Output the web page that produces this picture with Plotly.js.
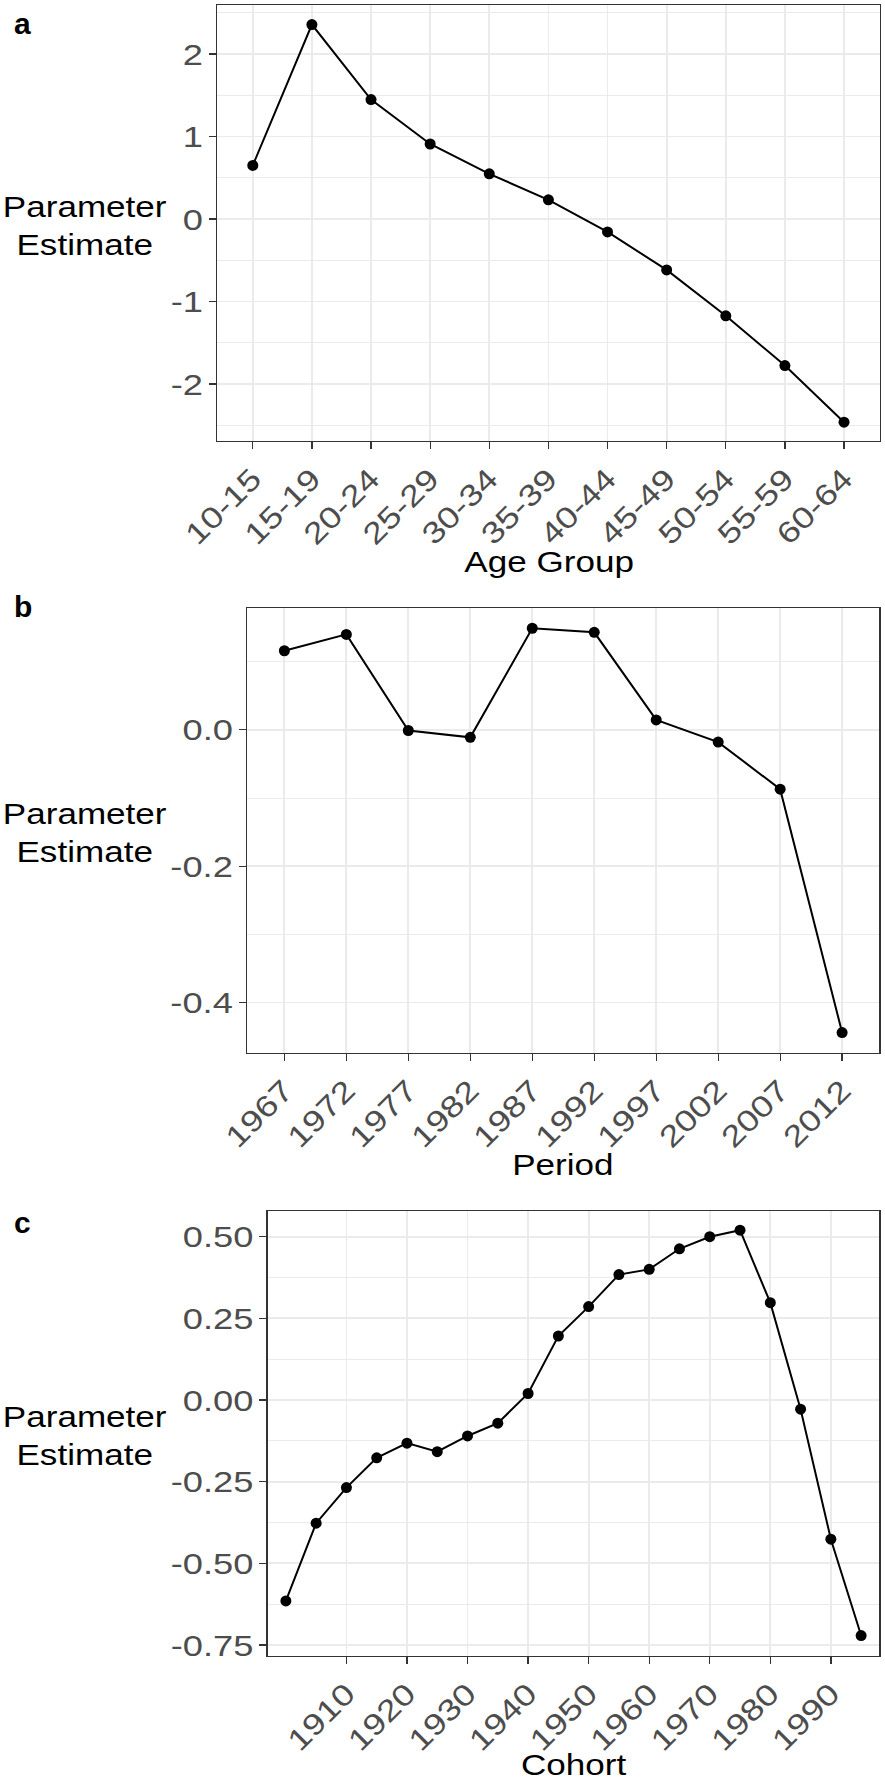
<!DOCTYPE html>
<html>
<head>
<meta charset="utf-8">
<script src="https://cdn.plot.ly/plotly-3.0.1.min.js"></script>
<style>
  html, body { margin: 0; padding: 0; background: #ffffff; }
  #chart { width: 885px; height: 1785px; }
</style>
</head>
<body>
<div id="chart"></div>
<script>
// ---------- data ----------
const ageGroups = ['10-15','15-19','20-24','25-29','30-34','35-39','40-44','45-49','50-54','55-59','60-64'];
const ageEstimates = [0.651, 2.358, 1.448, 0.910, 0.549, 0.233, -0.156, -0.616, -1.172, -1.776, -2.462];

const periods = ['1967','1972','1977','1982','1987','1992','1997','2002','2007','2012'];
const periodEstimates = [0.116, 0.140, -0.001, -0.011, 0.149, 0.143, 0.0145, -0.018, -0.087, -0.444];

const cohorts = [1900,1905,1910,1915,1920,1925,1930,1935,1940,1945,1950,1955,1960,1965,1970,1975,1980,1985,1990,1995];
const cohortEstimates = [-0.615, -0.377, -0.268, -0.177, -0.132, -0.158, -0.110, -0.071, 0.020, 0.196, 0.286, 0.384, 0.400, 0.463, 0.500, 0.520, 0.298, -0.028, -0.426, -0.721];
const cohortTicks = [1910,1920,1930,1940,1950,1960,1970,1980,1990];

const ageYTicks = [-2, -1, 0, 1, 2];
const ageYLabels = ['-2', '-1', '0', '1', '2'];
const periodYTicks = [-0.4, -0.2, 0];
const periodYLabels = ['-0.4', '-0.2', '0.0'];
const cohortYTicks = [-0.75, -0.5, -0.25, 0, 0.25, 0.5];
const cohortYLabels = ['-0.75', '-0.50', '-0.25', '0.00', '0.25', '0.50'];

const panelLetters = ['a', 'b', 'c'];
const xTitles = ['Age Group', 'Period', 'Cohort'];
const yTitle = 'Parameter<br>Estimate';

// ---------- styling ----------
const W = 885, H = 1785;
const FONT = 'Liberation Sans, Arial, Helvetica, sans-serif';
const px = v => v / W;
const py = v => 1 - v / H;

function lineTrace(x, y, xa, ya) {
  return {
    x: x, y: y, xaxis: xa, yaxis: ya,
    type: 'scatter', mode: 'lines+markers',
    line: { color: '#000000', width: 2 },
    marker: { color: '#000000', size: 11 },
    hoverinfo: 'skip', showlegend: false
  };
}

function axisBase() {
  return {
    showline: true, mirror: true, linecolor: '#333333', linewidth: 1.3,
    ticks: 'outside', ticklen: 7, tickwidth: 1.3, tickcolor: '#333333',
    showgrid: true, gridcolor: '#EBEBEB', gridwidth: 1.8,
    zeroline: false, fixedrange: true, automargin: false,
    tickfont: { family: FONT, size: 30, color: '#4D4D4D' }
  };
}

function xAxis(domain, extra) {
  return Object.assign(axisBase(), { domain: domain, tickangle: -45 }, extra);
}
function yAxis(domain, extra, minorStep) {
  return Object.assign(axisBase(), {
    domain: domain, tickmode: 'array',
    minor: { tickmode: 'linear', tick0: 0, dtick: minorStep, showgrid: true,
             gridcolor: '#EBEBEB', gridwidth: 1.0, ticks: '' }
  }, extra);
}

const data = [
  lineTrace(ageGroups, ageEstimates, 'x', 'y'),
  lineTrace(periods, periodEstimates, 'x2', 'y2'),
  lineTrace(cohorts, cohortEstimates, 'x3', 'y3')
];

// panel boxes (pixels): a: x 217.3-879.5, y 5-441 ; b: x 247.2-879.3, y 608-1052.5 ; c: x 267.7-879.3, y 1211-1655.7
const layout = {
  width: W, height: H,
  margin: { l: 0, r: 0, t: 0, b: 0 },
  paper_bgcolor: '#ffffff', plot_bgcolor: '#ffffff',
  showlegend: false,
  font: { family: FONT, color: '#000000' },
  xaxis:  xAxis([px(217.3), px(879.5)], { type: 'category', range: [-0.6, 10.6], anchor: 'y' }),
  yaxis:  yAxis([py(441), py(5)], { range: [-2.69, 2.595], tickvals: ageYTicks, ticktext: ageYLabels, anchor: 'x' }, 0.5),
  xaxis2: xAxis([px(247.2), px(879.3)], { type: 'category', range: [-0.6, 9.6], anchor: 'y2' }),
  yaxis2: yAxis([py(1052.5), py(608)], { range: [-0.4733, 0.1787], tickvals: periodYTicks, ticktext: periodYLabels, anchor: 'x2' }, 0.1),
  xaxis3: xAxis([px(267.7), px(879.3)], { type: 'linear', range: [1897, 1998], tickmode: 'array', tickvals: cohortTicks, ticktext: cohortTicks.map(String), anchor: 'y3' }),
  yaxis3: yAxis([py(1655.7), py(1211)], { range: [-0.7827, 0.5787], tickvals: cohortYTicks, ticktext: cohortYLabels, anchor: 'x3' }, 0.125),
  annotations: []
};

// panel letters
[23.9, 606.9, 1222.9].forEach((cy, i) => {
  layout.annotations.push({
    text: '<b>' + panelLetters[i] + '</b>', xref: 'paper', yref: 'paper',
    x: px(12), y: py(cy), xanchor: 'left', yanchor: 'middle', showarrow: false,
    font: { family: FONT, size: 30, color: '#000000' }
  });
});
// y titles
[225.5, 832.8, 1436.1].forEach(cy => {
  layout.annotations.push({
    text: yTitle, xref: 'paper', yref: 'paper', x: px(84.5), y: py(cy),
    xanchor: 'center', yanchor: 'middle', align: 'center', showarrow: false,
    font: { family: FONT, size: 29, color: '#000000' }
  });
});
// x titles
[[548.5, 561.7], [563.3, 1165], [573.5, 1765]].forEach((p, i) => {
  layout.annotations.push({
    text: xTitles[i], xref: 'paper', yref: 'paper', x: px(p[0]), y: py(p[1]),
    xanchor: 'center', yanchor: 'middle', showarrow: false,
    font: { family: FONT, size: 29, color: '#000000' }
  });
});

// widen text glyphs horizontally (reference typeface is wider than Arial)
function stretchText(gd, s) {
  gd.querySelectorAll('svg text').forEach(t => {
    if (t.getAttribute('data-str')) return;
    const txt = (t.textContent || '').trim();
    if (panelLetters.indexOf(txt) >= 0) return;
    const x = parseFloat(t.getAttribute('x')) || 0;
    const y = parseFloat(t.getAttribute('y')) || 0;
    const tr = t.getAttribute('transform') || '';
    t.setAttribute('transform', tr + ' translate(' + x + ',' + y + ') scale(' + s + ',1) translate(' + (-x) + ',' + (-y) + ')');
    t.setAttribute('data-str', '1');
  });
}

const gd = document.getElementById('chart');
Plotly.newPlot(gd, data, layout, { displayModeBar: false, staticPlot: true }).then(() => stretchText(gd, 1.21));
</script>
</body>
</html>
